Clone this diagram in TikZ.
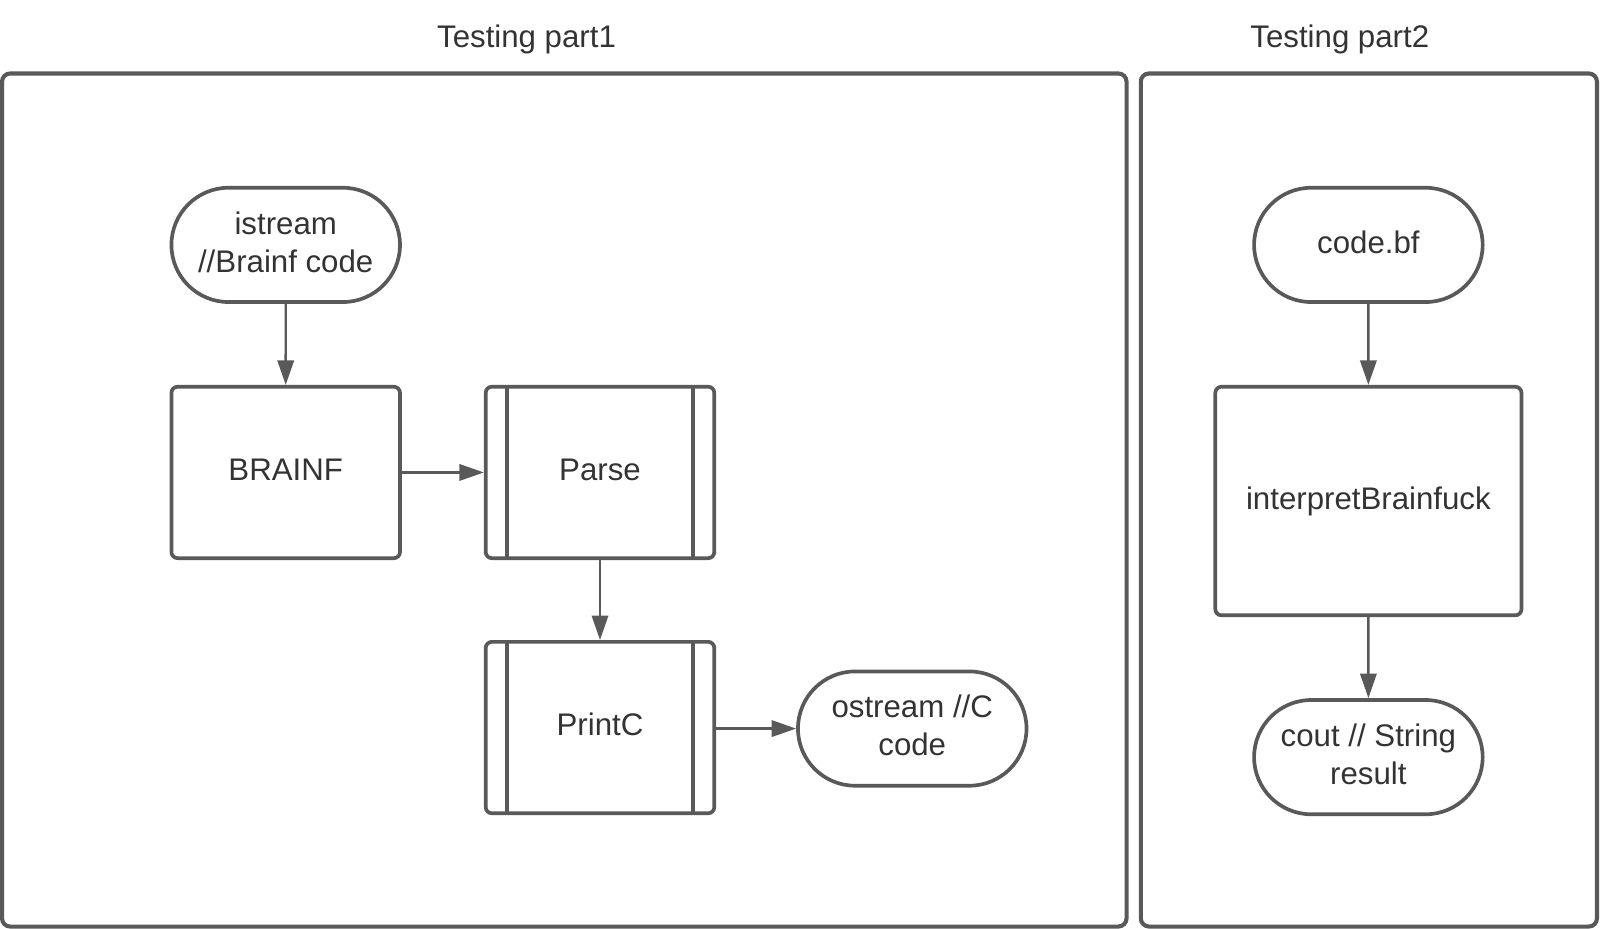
\documentclass[tikz,border=0pt]{standalone}
\usepackage{fontspec}
\setmainfont{Liberation Sans}
\usetikzlibrary{shapes.misc,arrows.meta}
\definecolor{linegray}{HTML}{595959}
\definecolor{textgray}{HTML}{333333}
\tikzset{
  box/.style={draw=linegray, line width=1.8pt, rounded corners=3pt, align=center,
    text=textgray, font=\fontsize{15.3}{18.5}\selectfont, minimum width=112pt, minimum height=84pt,
    inner sep=0pt, text depth=3pt},
  term/.style={draw=linegray, line width=1.8pt, rounded rectangle, align=center,
    text=textgray, font=\fontsize{15.3}{18.5}\selectfont, minimum width=112pt, minimum height=56pt,
    inner sep=0pt, text depth=3pt},
  subproc/.style={box, path picture={
    \draw[linegray, line width=1.8pt] ([xshift=10.5pt]path picture bounding box.north west) -- ([xshift=10.5pt]path picture bounding box.south west);
    \draw[linegray, line width=1.8pt] ([xshift=-10.5pt]path picture bounding box.north east) -- ([xshift=-10.5pt]path picture bounding box.south east);}},
  frame/.style={draw=linegray, line width=2pt, rounded corners=4pt},
  flow/.style={draw=linegray, line width=1.2pt, -{Triangle[length=12pt,width=8pt]}}
}
\begin{document}
\begin{tikzpicture}[x=0.5pt,y=-0.5pt]
    \useasboundingbox (0,0) rectangle (1568,910.4);
    \draw[frame] (2,72) rectangle (1104,908);
    \draw[frame] (1118,72) rectangle (1565,908);
    \node[text=textgray, font=\fontsize{15.3}{18}\selectfont] (title1) at (516,39) {Testing part1};
    \node[text=textgray, font=\fontsize{15.3}{18}\selectfont] (title2) at (1313,39) {Testing part2};
    \node[term] (istream) at (280,240) {istream\\//Brainf code};
    \node[box] (brainf) at (280,463) {BRAINF};
    \node[subproc] (parse) at (588,463) {Parse};
    \node[subproc] (printc) at (588,713) {PrintC};
    \node[term] (ostream) at (894,714) {ostream //C\\code};
    \node[term] (codebf) at (1341,240) {code.bf};
    \node[box, minimum width=150pt, minimum height=112pt] (interp) at (1341,491) {interpretBrainfuck};
    \node[term] (cout) at (1341,742) {cout // String\\result};
    \draw[flow] (istream) -- (brainf);
    \draw[flow] (brainf) -- (parse);
    \draw[flow] (parse) -- (printc);
    \draw[flow] (printc.east |- ostream) -- (ostream);
    \draw[flow] (codebf) -- (interp);
    \draw[flow] (interp) -- (cout);
\end{tikzpicture}
\end{document}
